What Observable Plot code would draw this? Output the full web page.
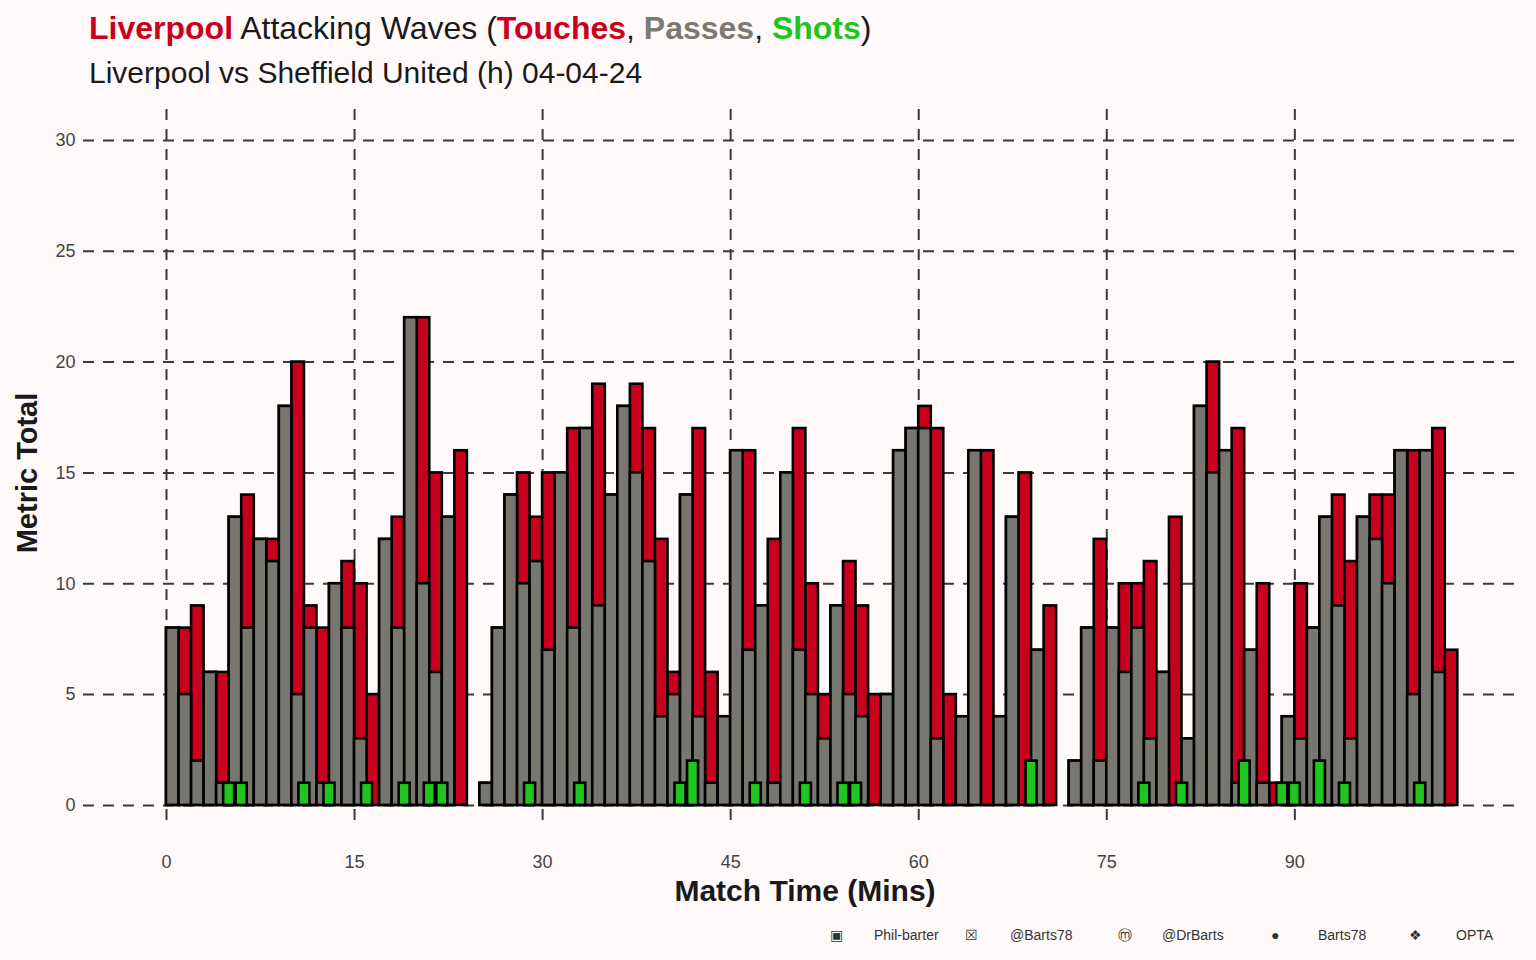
<!DOCTYPE html>
<html><head><meta charset="utf-8">
<script src="https://cdn.jsdelivr.net/npm/d3@7"></script>
<script src="https://cdn.jsdelivr.net/npm/@observablehq/plot@0.6"></script>
<style>
body{margin:0;background:#FFF9F9;font-family:Arial,"Liberation Sans",sans-serif;width:1536px;height:960px;position:relative;overflow:hidden;color:#1a1a1a}
#t1{position:absolute;left:89px;top:10px;font-size:32px}
#t2{position:absolute;left:89px;top:56px;font-size:30px}
#chart{position:absolute;left:0;top:100px}
#ylab{position:absolute;left:27px;top:473px;transform:translate(-50%,-50%) rotate(-90deg);font-size:29px;font-weight:bold;white-space:nowrap}
#xlab{position:absolute;left:805px;top:874px;transform:translateX(-50%);font-size:30px;font-weight:bold;white-space:nowrap}
.cap{position:absolute;top:927px;font-size:14px;color:#333}
</style></head><body>
<div id="t1"><b style="color:#C8001E">Liverpool</b> Attacking Waves (<b style="color:#C8001E">Touches</b>, <b style="color:#7A7A72">Passes</b>, <b style="color:#1EC51A">Shots</b>)</div>
<div id="t2">Liverpool vs Sheffield United (h) 04-04-24</div>
<div id="chart"></div>
<div id="ylab">Metric Total</div>
<div id="xlab">Match Time (Mins)</div>
<span class="cap" style="left:830px">▣</span><span class="cap" style="left:874px">Phil-barter</span>
<span class="cap" style="left:965px">☒</span><span class="cap" style="left:1010px">@Barts78</span>
<span class="cap" style="left:1118px">ⓜ</span><span class="cap" style="left:1162px">@DrBarts</span>
<span class="cap" style="left:1271px">●</span><span class="cap" style="left:1318px">Barts78</span>
<span class="cap" style="left:1409px">❖</span><span class="cap" style="left:1456px">OPTA</span>
<script>
const touches = [8,8,9,6,6,13,14,12,12,18,20,9,8,10,11,10,5,12,13,22,22,15,13,16,
 null,
 1,8,14,15,13,15,15,17,17,19,14,18,19,17,12,6,14,17,6,4,16,16,9,
 12,15,17,10,5,9,11,9,5,5,16,17,18,17,5,4,16,16,4,13,15,7,9,
 null,
 2,8,12,8,10,10,11,6,13,3,18,20,16,17,7,10,1,4,10,8,13,14,11,13,14,14,16,16,16,17,7];
const passes = [8,5,2,6,1,13,8,12,11,18,5,8,1,10,8,3,0,12,8,22,10,6,13,0,
 null,
 1,8,14,10,11,7,15,8,17,9,14,18,15,11,4,5,14,4,1,4,16,7,9,
 1,15,7,5,3,9,5,4,0,5,16,17,17,3,0,4,16,0,4,13,0,7,0,
 null,
 2,8,2,8,6,8,3,6,0,3,18,15,16,1,7,1,0,4,3,8,13,9,3,13,12,10,16,5,16,6,0];
const shotMinutes = [5,6,11,13,16,19,21,22,29,33,41,42,47,51,54,55,69,78,81,86,89,90,92,94,100];
const shotValues  = [1,1,1,1,1,1,1,1,1,1,1,2,1,1,1,1,2,1,1,2,1,1,2,1,1];
const yTicks = [0,5,10,15,20,25,30];
const xTicks = [0,15,30,45,60,75,90];

const cols = touches.map((t,i)=>({m:i,t,p:passes[i]})).filter(d=>d.t!==null);
const shots = shotMinutes.map((m,i)=>({m,s:shotValues[i]}));
const xMin=-6.62, xMax=108;
const plot = Plot.plot({
  width:1536, height:820, marginLeft:83, marginRight:16, marginTop:0, marginBottom:100,
  style:{background:"transparent",fontFamily:"Arial, Liberation Sans, sans-serif"},
  x:{domain:[xMin,xMax], axis:null},
  y:{domain:[-0.68,31.8], axis:null},
  marks:[
    Plot.ruleY(yTicks,{x1:xMin,x2:xMax,stroke:"#3a3a3a",strokeWidth:2,strokeDasharray:"11,9"}),
    Plot.ruleX(xTicks,{y1:-0.68,y2:31.8,stroke:"#3a3a3a",strokeWidth:2,strokeDasharray:"11,9"}),
    Plot.text(yTicks,{x:xMin,y:d=>d,text:d=>String(d),dx:-8,textAnchor:"end",fontSize:18,fill:"#444"}),
    Plot.text(xTicks,{x:d=>d,y:-0.68,text:d=>String(d),dy:42,fontSize:18,fill:"#444"}),
    Plot.rect(cols,{x1:"m",x2:d=>d.m+1,y1:0,y2:"t",fill:"#C8001E",stroke:"#000",strokeWidth:2.6,inset:0}),
    Plot.rect(cols,{x1:"m",x2:d=>d.m+1,y1:0,y2:"p",fill:"#77776F",stroke:"#000",strokeWidth:2.6,inset:0}),
    Plot.rect(shots,{x1:d=>d.m-0.44,x2:d=>d.m+0.44,y1:0,y2:"s",fill:"#1DC71D",stroke:"#000",strokeWidth:2.6,inset:0})
  ]
});
document.getElementById("chart").appendChild(plot);
</script></body></html>
